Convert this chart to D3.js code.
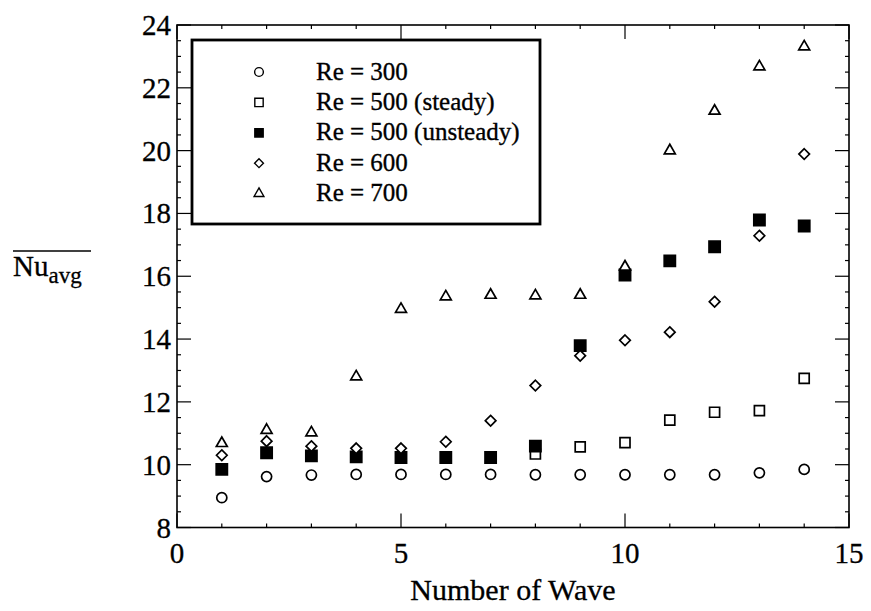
<!DOCTYPE html>
<html><head><meta charset="utf-8">
<script src="https://cdn.jsdelivr.net/npm/d3@7"></script>
<style>
body{margin:0;background:#fff;}
svg{display:block;}
</style></head>
<body>
<svg id="chart" width="871" height="611" font-family="'Liberation Serif', 'Times New Roman', Times, 'DejaVu Serif', serif"></svg>
<script>
// ---- data ----
const waves = [1,2,3,4,5,6,7,8,9,10,11,12,13,14];
const re300 = [8.95,9.62,9.67,9.69,9.69,9.69,9.69,9.68,9.68,9.68,9.68,9.68,9.74,9.85];
const re500SteadyWaves = [8,9,10,11,12,13,14];
const re500Steady = [10.34,10.57,10.70,11.42,11.67,11.72,12.75];
const re500Unsteady = [9.85,10.38,10.28,10.25,10.23,10.23,10.23,10.59,13.79,16.04,16.49,16.94,17.79,17.60];
const re600 = [10.30,10.75,10.59,10.52,10.52,10.73,11.40,12.52,13.47,13.96,14.22,15.19,17.29,19.89];
const re700 = [10.68,11.10,11.02,12.80,14.95,15.35,15.40,15.38,15.40,16.30,20.00,21.26,22.67,23.31];
const xTicks = [0,5,10,15];
const yTicks = [8,10,12,14,16,18,20,22,24];
const legendLabels = ["Re = 300","Re = 500 (steady)","Re = 500 (unsteady)","Re = 600","Re = 700"];

const svg = d3.select("#chart");
const L = 177, R = 849, T = 25, B = 527.5;
const x = d3.scaleLinear().domain([0,15]).range([L,R]);
const y = d3.scaleLinear().domain([8,24]).range([B,T]);

// frame
svg.append("rect").attr("x",L).attr("y",T).attr("width",R-L).attr("height",B-T)
  .attr("fill","none").attr("stroke","#000").attr("stroke-width",1.6);

const tk = svg.append("g").attr("stroke","#000").attr("stroke-width",1.2);
const xMinor = d3.range(0,15.01,1);
const yMinor = d3.range(8,24.01,0.5);
xMinor.forEach(v=>{
  const major = xTicks.includes(v);
  const len = major?14:4;
  tk.append("line").attr("x1",x(v)).attr("x2",x(v)).attr("y1",B).attr("y2",B-len);
  tk.append("line").attr("x1",x(v)).attr("x2",x(v)).attr("y1",T).attr("y2",T+len);
});
yMinor.forEach(v=>{
  const major = yTicks.includes(v);
  const len = major?14:4;
  tk.append("line").attr("y1",y(v)).attr("y2",y(v)).attr("x1",L).attr("x2",L+len);
  tk.append("line").attr("y1",y(v)).attr("y2",y(v)).attr("x1",R).attr("x2",R-len);
});

// tick labels
svg.append("g").attr("stroke","#000").attr("stroke-width",0.3)
  .selectAll("text").data(xTicks).join("text")
  .attr("x",d=>x(d)).attr("y",563).attr("text-anchor","middle")
  .attr("font-size",29).text(d=>d);
svg.append("g").attr("stroke","#000").attr("stroke-width",0.3)
  .selectAll("text").data(yTicks).join("text")
  .attr("x",171).attr("y",d=>y(d)+10).attr("text-anchor","end")
  .attr("font-size",29).text(d=>d);

// axis titles
svg.append("text").attr("x",(L+R)/2).attr("y",600).attr("text-anchor","middle")
  .attr("font-size",30).attr("stroke","#000").attr("stroke-width",0.3).text("Number of Wave");
const yt = svg.append("text").attr("x",13).attr("y",276).attr("font-size",29)
  .attr("stroke","#000").attr("stroke-width",0.3);
yt.append("tspan").text("Nu");
yt.append("tspan").attr("font-size",23).attr("dy",7).text("avg");
svg.append("line").attr("x1",13).attr("x2",91).attr("y1",251).attr("y2",251)
  .attr("stroke","#000").attr("stroke-width",1.6);

// markers
const sym = {
  circle: d3.symbol().type(d3.symbolCircle).size(80),
  square: d3.symbol().type(d3.symbolSquare).size(100),
  fsquare: d3.symbol().type(d3.symbolSquare).size(125),
  diamond: d3.symbol().type(d3.symbolDiamond2).size(72),
  triangle: d3.symbol().type(d3.symbolTriangle).size(52)
};
function plot(xs, ys, s, filled){
  svg.append("g").selectAll("path").data(xs.map((v,i)=>[v,ys[i]])).join("path")
    .attr("d",sym[s]())
    .attr("transform",d=>`translate(${x(d[0])},${y(d[1])})`)
    .attr("fill",filled?"#000":"#fff").attr("stroke","#000").attr("stroke-width",1.7);
}
plot(waves, re300, "circle", false);
plot(re500SteadyWaves, re500Steady, "square", false);
plot(waves, re500Unsteady, "fsquare", true);
plot(waves, re600, "diamond", false);
plot(waves, re700, "triangle", false);

// legend
const lg = svg.append("g");
lg.append("rect").attr("x",192).attr("y",40).attr("width",348).attr("height",184)
  .attr("fill","#fff").attr("stroke","#000").attr("stroke-width",2.8);
const legSym = [
  d3.symbol().type(d3.symbolCircle).size(60),
  d3.symbol().type(d3.symbolSquare).size(70),
  d3.symbol().type(d3.symbolSquare).size(70),
  d3.symbol().type(d3.symbolDiamond2).size(50),
  d3.symbol().type(d3.symbolTriangle).size(42)
];
legendLabels.forEach((lab,i)=>{
  const cy = 72 + i*30.4;
  lg.append("path").attr("d",legSym[i]()).attr("transform",`translate(259,${cy})`)
    .attr("fill",i===2?"#000":"#fff").attr("stroke","#000").attr("stroke-width",1.4);
  lg.append("text").attr("x",316).attr("y",cy+7.5).attr("font-size",25)
    .attr("stroke","#000").attr("stroke-width",0.35).text(lab);
});
</script>
</body></html>
